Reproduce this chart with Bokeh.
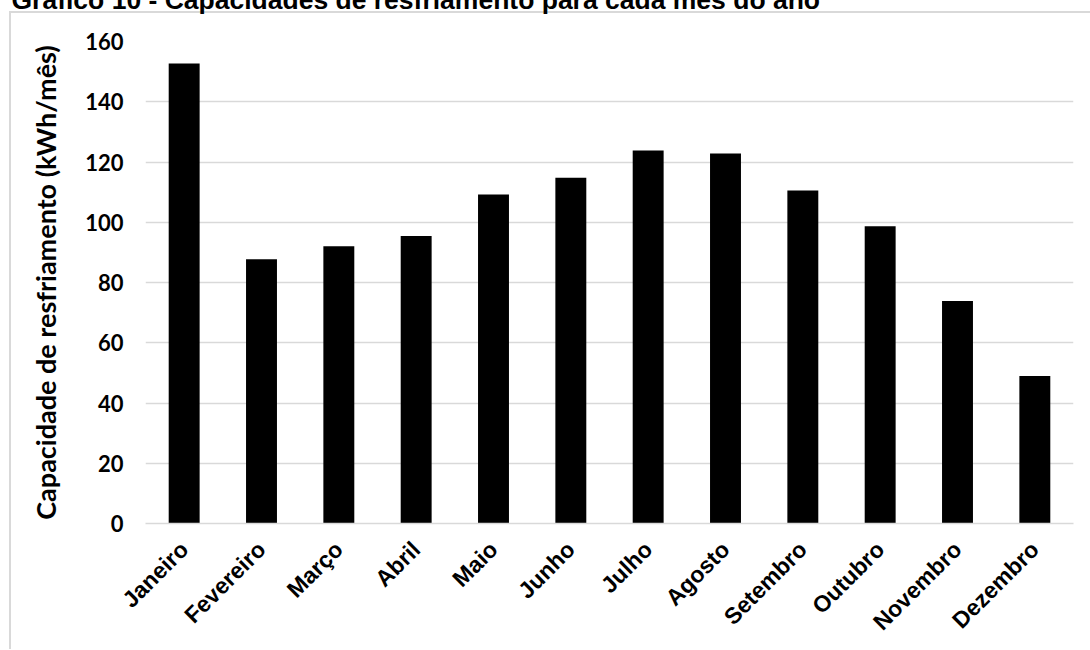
import math
from bokeh.plotting import figure
from bokeh.models import Range1d, FactorRange, ColumnDataSource
from bokeh.embed import file_html
from bokeh.resources import INLINE

months = ["Janeiro", "Fevereiro", "Março", "Abril", "Maio", "Junho", "Julho",
          "Agosto", "Setembro", "Outubro", "Novembro", "Dezembro"]
capacity = [152.7, 87.7, 92.0, 95.4, 109.2, 114.8, 123.8, 122.8, 110.5, 98.7, 73.9, 49.0]
y_ticks = [0, 20, 40, 60, 80, 100, 120, 140, 160]
title_text = "Gráfico 10 - Capacidades de resfriamento para cada mês do ano"
y_title = "Capacidade de resfriamento (kWh/mês)"

src = ColumnDataSource(dict(month=months, value=capacity))

TOP_SHIFT = 46  # canvas starts above the window, like the cropped reference

p = figure(
    x_range=FactorRange(*months, range_padding=0),
    y_range=Range1d(0, 160),
    width=1090, height=695,
    output_backend="svg", toolbar_location=None,
    min_border_left=145, min_border_right=17, min_border_top=87, min_border_bottom=126,
    margin=(-TOP_SHIFT, 0, 0, 0),
    title=title_text,
)
p.outline_line_color = None
p.background_fill_color = "white"
p.border_fill_color = None

# Excel-like chart area border drawn with CSS behind the transparent canvas border
p.styles = {
    "background-color": "white",
    "background-image": "linear-gradient(#d9d9d9, #d9d9d9), linear-gradient(#d9d9d9, #d9d9d9)",
    "background-size": "2px 100%, 100% 2px",
    "background-position": "9px 57px, 9px 57px",
    "background-repeat": "no-repeat",
}

# title (cropped at the top like the reference)
p.title.align = "left"
p.title.offset = -134
p.title.standoff = 53
p.title.text_font = "Liberation Sans"
p.title.text_font_style = "bold"
p.title.text_font_size = "26.5px"
p.title.text_color = "black"

p.vbar(x="month", top="value", width=0.4, source=src, fill_color="black", line_color=None)

# grid
p.xgrid.visible = False
p.ygrid.grid_line_color = "#d9d9d9"
p.ygrid.grid_line_width = 1.5
p.ygrid.ticker = y_ticks

# y axis
p.yaxis.ticker = y_ticks
p.yaxis.axis_line_color = None
p.yaxis.major_tick_line_color = None
p.yaxis.minor_tick_line_color = None
p.yaxis.major_tick_out = 0
p.yaxis.major_tick_in = 0
p.yaxis.major_label_standoff = 22
p.yaxis.major_label_text_font = "Lato"
p.yaxis.major_label_text_font_style = "bold"
p.yaxis.major_label_text_font_size = "22px"
p.yaxis.major_label_text_color = "black"
p.yaxis.axis_label = y_title
p.yaxis.axis_label_text_font = "Lato"
p.yaxis.axis_label_text_font_style = "bold"
p.yaxis.axis_label_text_font_size = "27px"
p.yaxis.axis_label_text_color = "black"
p.yaxis.axis_label_standoff = 20

# x axis
p.xaxis.axis_line_color = "#d9d9d9"
p.xaxis.axis_line_width = 1.5
p.xaxis.major_tick_line_color = None
p.xaxis.minor_tick_line_color = None
p.xaxis.major_tick_out = 0
p.xaxis.major_tick_in = 0
p.xaxis.major_label_orientation = math.pi / 4
p.xaxis.major_label_standoff = 22
p.xaxis.major_label_text_font = "Liberation Sans"
p.xaxis.major_label_text_font_style = "bold"
p.xaxis.major_label_text_font_size = "23px"
p.xaxis.major_label_text_color = "black"

open("out.html", "w").write(file_html(p, INLINE))
